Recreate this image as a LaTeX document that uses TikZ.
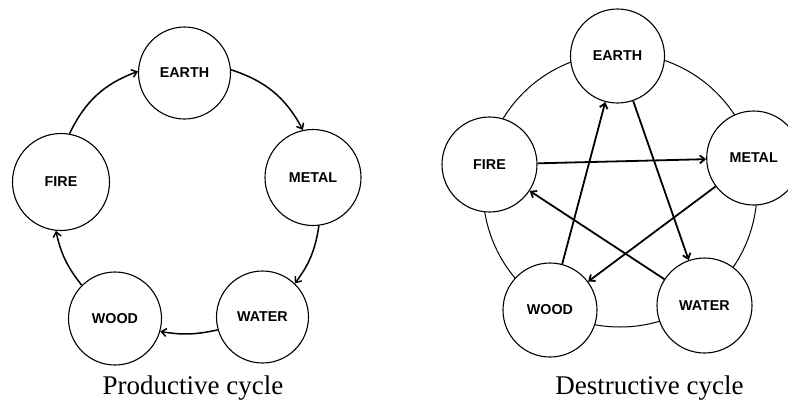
\documentclass[tikz,border=0pt]{standalone}
\usepackage{fontspec}
\setmainfont{Liberation Serif}
\newfontfamily\elemfont{Liberation Sans}
\usetikzlibrary{arrows.meta}
\begin{document}
\begin{tikzpicture}[x=1pt,y=-1pt,
  elem/.style={circle,draw,line width=1.1pt,fill=white,minimum size=93pt,inner sep=0pt,
    font=\elemfont\bfseries\fontsize{14.3}{14.3}\selectfont},
  cyc/.style={line width=1.5pt,-{Straight Barb[length=5pt,width=8pt]}},
  dcyc/.style={line width=1.8pt,-{Straight Barb[length=5pt,width=8pt]}},
  ring/.style={line width=1pt},
  caption/.style={font=\fontsize{27}{27}\selectfont,anchor=base,inner sep=0pt}]
\useasboundingbox (0,0) rectangle (788,402);
\clip (0,0) rectangle (788,402);
% Productive cycle
\node[elem,minimum size=92pt] (pE) at (184.5,73) {EARTH};
\node[elem,minimum size=96pt] (pM) at (313,177.5) {METAL};
\node[elem,minimum size=92pt] (pWa) at (262.5,317) {WATER};
\node[elem,minimum size=93pt] (pWo) at (115,318.5) {WOOD};
\node[elem,minimum size=97pt] (pF) at (61,182) {FIRE};
\draw[cyc] (pE.4) to[bend left=22] (pM.102);
\draw[cyc] (pM.-83) to[bend left=14] (pWa.46);
\draw[cyc] (pWa.196) to[bend left=11] (pWo.-16);
\draw[cyc] (pWo.135) to[bend left=13] (pF.-96);
\draw[cyc] (pF.80) to[bend left=22] (pE.178);
\node[caption] (pc) at (193,394) {Productive cycle};
% Destructive cycle
\draw[ring] (620,190) circle[radius=137pt];
\node[elem,minimum size=94pt] (dE) at (617.5,56) {EARTH};
\node[elem,minimum size=95pt] (dF) at (489.5,164.5) {FIRE};
\node[elem,minimum size=94pt] (dM) at (753.7,158) {METAL};
\node[elem,minimum size=94pt] (dWo) at (550,310) {WOOD};
\node[elem,minimum size=95pt] (dWa) at (704.5,305.5) {WATER};
\draw[dcyc] (dE) -- (dWa);
\draw[dcyc] (dWa) -- (dF);
\draw[dcyc] (dF) -- (dM);
\draw[dcyc] (dM) -- (dWo);
\draw[dcyc] (dWo) -- (dE);
\node[caption] (dc) at (649.5,394) {Destructive cycle};
\end{tikzpicture}
\end{document}
